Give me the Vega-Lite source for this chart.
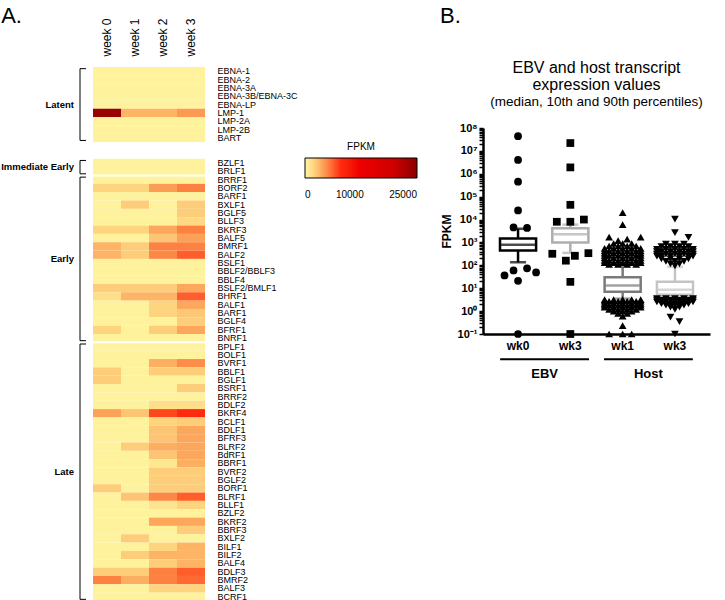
{
"$schema":"https://vega.github.io/schema/vega-lite/v6.json",
"padding":{"left":1,"top":4,"right":5,"bottom":3},
"background":"white",
"config":{"font":"Liberation Sans","view":{"stroke":null},"axis":{"labelColor":"black","titleColor":"black"},"title":{"color":"black","subtitleColor":"black"}},
"datasets":{
"brk":[
{"grp":"Latent","first":"EBNA-1","last":"BART","mid":"EBNA-LP","t":"c"},
{"grp":"Immediate Early","first":"BZLF1","last":"BRLF1","mid":"BRLF1","t":"s"},
{"grp":"Early","first":"BRRF1","last":"BNRF1","mid":"BSLF1","t":"s"},
{"grp":"Late","first":"BPLF1","last":"BCRF1","mid":"BVRF2","t":"c"}],
"seps":[{"sep":"BRRF1"},{"sep":"BPLF1"}],
"groups":[{"src":"EBV"},{"src":"Host"}],
"heat":[
{"g":"EBNA-1","w":"week 0","v":250},{"g":"EBNA-1","w":"week 1","v":250},{"g":"EBNA-1","w":"week 2","v":250},{"g":"EBNA-1","w":"week 3","v":250},
{"g":"EBNA-2","w":"week 0","v":250},{"g":"EBNA-2","w":"week 1","v":250},{"g":"EBNA-2","w":"week 2","v":250},{"g":"EBNA-2","w":"week 3","v":250},
{"g":"EBNA-3A","w":"week 0","v":250},{"g":"EBNA-3A","w":"week 1","v":250},{"g":"EBNA-3A","w":"week 2","v":250},{"g":"EBNA-3A","w":"week 3","v":250},
{"g":"EBNA-3B/EBNA-3C","w":"week 0","v":250},{"g":"EBNA-3B/EBNA-3C","w":"week 1","v":250},{"g":"EBNA-3B/EBNA-3C","w":"week 2","v":250},{"g":"EBNA-3B/EBNA-3C","w":"week 3","v":250},
{"g":"EBNA-LP","w":"week 0","v":250},{"g":"EBNA-LP","w":"week 1","v":250},{"g":"EBNA-LP","w":"week 2","v":250},{"g":"EBNA-LP","w":"week 3","v":250},
{"g":"LMP-1","w":"week 0","v":24000},{"g":"LMP-1","w":"week 1","v":3300},{"g":"LMP-1","w":"week 2","v":3300},{"g":"LMP-1","w":"week 3","v":4300},
{"g":"LMP-2A","w":"week 0","v":250},{"g":"LMP-2A","w":"week 1","v":250},{"g":"LMP-2A","w":"week 2","v":250},{"g":"LMP-2A","w":"week 3","v":250},
{"g":"LMP-2B","w":"week 0","v":250},{"g":"LMP-2B","w":"week 1","v":250},{"g":"LMP-2B","w":"week 2","v":250},{"g":"LMP-2B","w":"week 3","v":250},
{"g":"BART","w":"week 0","v":250},{"g":"BART","w":"week 1","v":250},{"g":"BART","w":"week 2","v":250},{"g":"BART","w":"week 3","v":250},
{"g":"BZLF1","w":"week 0","v":250},{"g":"BZLF1","w":"week 1","v":250},{"g":"BZLF1","w":"week 2","v":250},{"g":"BZLF1","w":"week 3","v":250},
{"g":"BRLF1","w":"week 0","v":250},{"g":"BRLF1","w":"week 1","v":250},{"g":"BRLF1","w":"week 2","v":250},{"g":"BRLF1","w":"week 3","v":250},
{"g":"BRRF1","w":"week 0","v":250},{"g":"BRRF1","w":"week 1","v":250},{"g":"BRRF1","w":"week 2","v":250},{"g":"BRRF1","w":"week 3","v":250},
{"g":"BORF2","w":"week 0","v":2000},{"g":"BORF2","w":"week 1","v":2000},{"g":"BORF2","w":"week 2","v":4200},{"g":"BORF2","w":"week 3","v":5200},
{"g":"BARF1","w":"week 0","v":250},{"g":"BARF1","w":"week 1","v":250},{"g":"BARF1","w":"week 2","v":250},{"g":"BARF1","w":"week 3","v":250},
{"g":"BXLF1","w":"week 0","v":250},{"g":"BXLF1","w":"week 1","v":2300},{"g":"BXLF1","w":"week 2","v":250},{"g":"BXLF1","w":"week 3","v":2300},
{"g":"BGLF5","w":"week 0","v":250},{"g":"BGLF5","w":"week 1","v":250},{"g":"BGLF5","w":"week 2","v":250},{"g":"BGLF5","w":"week 3","v":2300},
{"g":"BLLF3","w":"week 0","v":250},{"g":"BLLF3","w":"week 1","v":250},{"g":"BLLF3","w":"week 2","v":250},{"g":"BLLF3","w":"week 3","v":1800},
{"g":"BKRF3","w":"week 0","v":2000},{"g":"BKRF3","w":"week 1","v":2000},{"g":"BKRF3","w":"week 2","v":3800},{"g":"BKRF3","w":"week 3","v":5200},
{"g":"BALF5","w":"week 0","v":250},{"g":"BALF5","w":"week 1","v":250},{"g":"BALF5","w":"week 2","v":2600},{"g":"BALF5","w":"week 3","v":4000},
{"g":"BMRF1","w":"week 0","v":3300},{"g":"BMRF1","w":"week 1","v":2300},{"g":"BMRF1","w":"week 2","v":5200},{"g":"BMRF1","w":"week 3","v":5200},
{"g":"BALF2","w":"week 0","v":3300},{"g":"BALF2","w":"week 1","v":2300},{"g":"BALF2","w":"week 2","v":5000},{"g":"BALF2","w":"week 3","v":6500},
{"g":"BSLF1","w":"week 0","v":250},{"g":"BSLF1","w":"week 1","v":250},{"g":"BSLF1","w":"week 2","v":250},{"g":"BSLF1","w":"week 3","v":250},
{"g":"BBLF2/BBLF3","w":"week 0","v":250},{"g":"BBLF2/BBLF3","w":"week 1","v":250},{"g":"BBLF2/BBLF3","w":"week 2","v":250},{"g":"BBLF2/BBLF3","w":"week 3","v":250},
{"g":"BBLF4","w":"week 0","v":250},{"g":"BBLF4","w":"week 1","v":250},{"g":"BBLF4","w":"week 2","v":250},{"g":"BBLF4","w":"week 3","v":250},
{"g":"BSLF2/BMLF1","w":"week 0","v":2300},{"g":"BSLF2/BMLF1","w":"week 1","v":2300},{"g":"BSLF2/BMLF1","w":"week 2","v":2300},{"g":"BSLF2/BMLF1","w":"week 3","v":3800},
{"g":"BHRF1","w":"week 0","v":1600},{"g":"BHRF1","w":"week 1","v":3300},{"g":"BHRF1","w":"week 2","v":3300},{"g":"BHRF1","w":"week 3","v":6500},
{"g":"BALF1","w":"week 0","v":250},{"g":"BALF1","w":"week 1","v":250},{"g":"BALF1","w":"week 2","v":2000},{"g":"BALF1","w":"week 3","v":3800},
{"g":"BARF1 ","w":"week 0","v":250},{"g":"BARF1 ","w":"week 1","v":250},{"g":"BARF1 ","w":"week 2","v":2000},{"g":"BARF1 ","w":"week 3","v":2500},
{"g":"BGLF4","w":"week 0","v":250},{"g":"BGLF4","w":"week 1","v":250},{"g":"BGLF4","w":"week 2","v":250},{"g":"BGLF4","w":"week 3","v":2300},
{"g":"BFRF1","w":"week 0","v":2000},{"g":"BFRF1","w":"week 1","v":250},{"g":"BFRF1","w":"week 2","v":2300},{"g":"BFRF1","w":"week 3","v":3800},
{"g":"BNRF1","w":"week 0","v":250},{"g":"BNRF1","w":"week 1","v":250},{"g":"BNRF1","w":"week 2","v":250},{"g":"BNRF1","w":"week 3","v":250},
{"g":"BPLF1","w":"week 0","v":250},{"g":"BPLF1","w":"week 1","v":250},{"g":"BPLF1","w":"week 2","v":250},{"g":"BPLF1","w":"week 3","v":250},
{"g":"BOLF1","w":"week 0","v":250},{"g":"BOLF1","w":"week 1","v":250},{"g":"BOLF1","w":"week 2","v":250},{"g":"BOLF1","w":"week 3","v":250},
{"g":"BVRF1","w":"week 0","v":250},{"g":"BVRF1","w":"week 1","v":250},{"g":"BVRF1","w":"week 2","v":3500},{"g":"BVRF1","w":"week 3","v":4800},
{"g":"BBLF1","w":"week 0","v":2300},{"g":"BBLF1","w":"week 1","v":250},{"g":"BBLF1","w":"week 2","v":2300},{"g":"BBLF1","w":"week 3","v":2300},
{"g":"BGLF1","w":"week 0","v":2300},{"g":"BGLF1","w":"week 1","v":250},{"g":"BGLF1","w":"week 2","v":250},{"g":"BGLF1","w":"week 3","v":250},
{"g":"BSRF1","w":"week 0","v":250},{"g":"BSRF1","w":"week 1","v":250},{"g":"BSRF1","w":"week 2","v":250},{"g":"BSRF1","w":"week 3","v":2300},
{"g":"BRRF2","w":"week 0","v":250},{"g":"BRRF2","w":"week 1","v":250},{"g":"BRRF2","w":"week 2","v":250},{"g":"BRRF2","w":"week 3","v":250},
{"g":"BDLF2","w":"week 0","v":250},{"g":"BDLF2","w":"week 1","v":250},{"g":"BDLF2","w":"week 2","v":1600},{"g":"BDLF2","w":"week 3","v":1600},
{"g":"BKRF4","w":"week 0","v":4000},{"g":"BKRF4","w":"week 1","v":2600},{"g":"BKRF4","w":"week 2","v":7300},{"g":"BKRF4","w":"week 3","v":8200},
{"g":"BCLF1","w":"week 0","v":250},{"g":"BCLF1","w":"week 1","v":250},{"g":"BCLF1","w":"week 2","v":2000},{"g":"BCLF1","w":"week 3","v":2300},
{"g":"BDLF1","w":"week 0","v":250},{"g":"BDLF1","w":"week 1","v":250},{"g":"BDLF1","w":"week 2","v":2600},{"g":"BDLF1","w":"week 3","v":3800},
{"g":"BFRF3","w":"week 0","v":250},{"g":"BFRF3","w":"week 1","v":250},{"g":"BFRF3","w":"week 2","v":2600},{"g":"BFRF3","w":"week 3","v":3800},
{"g":"BLRF2","w":"week 0","v":250},{"g":"BLRF2","w":"week 1","v":2300},{"g":"BLRF2","w":"week 2","v":3500},{"g":"BLRF2","w":"week 3","v":3800},
{"g":"BdRF1","w":"week 0","v":250},{"g":"BdRF1","w":"week 1","v":250},{"g":"BdRF1","w":"week 2","v":2600},{"g":"BdRF1","w":"week 3","v":3800},
{"g":"BBRF1","w":"week 0","v":250},{"g":"BBRF1","w":"week 1","v":250},{"g":"BBRF1","w":"week 2","v":1000},{"g":"BBRF1","w":"week 3","v":3500},
{"g":"BVRF2","w":"week 0","v":250},{"g":"BVRF2","w":"week 1","v":250},{"g":"BVRF2","w":"week 2","v":2300},{"g":"BVRF2","w":"week 3","v":2300},
{"g":"BGLF2","w":"week 0","v":250},{"g":"BGLF2","w":"week 1","v":250},{"g":"BGLF2","w":"week 2","v":2300},{"g":"BGLF2","w":"week 3","v":2300},
{"g":"BORF1","w":"week 0","v":2300},{"g":"BORF1","w":"week 1","v":250},{"g":"BORF1","w":"week 2","v":2300},{"g":"BORF1","w":"week 3","v":2300},
{"g":"BLRF1","w":"week 0","v":250},{"g":"BLRF1","w":"week 1","v":2600},{"g":"BLRF1","w":"week 2","v":5000},{"g":"BLRF1","w":"week 3","v":6500},
{"g":"BLLF1","w":"week 0","v":250},{"g":"BLLF1","w":"week 1","v":250},{"g":"BLLF1","w":"week 2","v":1200},{"g":"BLLF1","w":"week 3","v":2000},
{"g":"BZLF2","w":"week 0","v":250},{"g":"BZLF2","w":"week 1","v":250},{"g":"BZLF2","w":"week 2","v":250},{"g":"BZLF2","w":"week 3","v":250},
{"g":"BKRF2","w":"week 0","v":250},{"g":"BKRF2","w":"week 1","v":250},{"g":"BKRF2","w":"week 2","v":3800},{"g":"BKRF2","w":"week 3","v":3800},
{"g":"BBRF3","w":"week 0","v":250},{"g":"BBRF3","w":"week 1","v":250},{"g":"BBRF3","w":"week 2","v":250},{"g":"BBRF3","w":"week 3","v":2300},
{"g":"BXLF2","w":"week 0","v":250},{"g":"BXLF2","w":"week 1","v":2300},{"g":"BXLF2","w":"week 2","v":250},{"g":"BXLF2","w":"week 3","v":250},
{"g":"BILF1","w":"week 0","v":250},{"g":"BILF1","w":"week 1","v":250},{"g":"BILF1","w":"week 2","v":2000},{"g":"BILF1","w":"week 3","v":3300},
{"g":"BILF2","w":"week 0","v":250},{"g":"BILF2","w":"week 1","v":2300},{"g":"BILF2","w":"week 2","v":3300},{"g":"BILF2","w":"week 3","v":3300},
{"g":"BALF4","w":"week 0","v":250},{"g":"BALF4","w":"week 1","v":250},{"g":"BALF4","w":"week 2","v":2300},{"g":"BALF4","w":"week 3","v":3300},
{"g":"BDLF3","w":"week 0","v":2300},{"g":"BDLF3","w":"week 1","v":2300},{"g":"BDLF3","w":"week 2","v":5200},{"g":"BDLF3","w":"week 3","v":6500},
{"g":"BMRF2","w":"week 0","v":5200},{"g":"BMRF2","w":"week 1","v":3500},{"g":"BMRF2","w":"week 2","v":5200},{"g":"BMRF2","w":"week 3","v":6000},
{"g":"BALF3","w":"week 0","v":250},{"g":"BALF3","w":"week 1","v":250},{"g":"BALF3","w":"week 2","v":2000},{"g":"BALF3","w":"week 3","v":2000},
{"g":"BCRF1","w":"week 0","v":250},{"g":"BCRF1","w":"week 1","v":250},{"g":"BCRF1","w":"week 2","v":250},{"g":"BCRF1","w":"week 3","v":250}],
"bdata":[
{"kind":"box","src":"EBV","grp":"EBV wk0","q10":135,"q25":440,"med":800,"q75":1500,"q90":4000},
{"kind":"box","src":"EBV","grp":"EBV wk3","q10":350,"q25":1000,"med":2300,"q75":4200,"q90":6000},
{"kind":"box","src":"Host","grp":"Host wk1","q10":3.5,"q25":7,"med":13,"q75":30,"q90":110},
{"kind":"box","src":"Host","grp":"Host wk3","q10":3.6,"q25":5.2,"med":8.5,"q75":19,"q90":85},
{"kind":"pt","src":"EBV","grp":"EBV wk0","v":44000000,"lane":0},
{"kind":"pt","src":"EBV","grp":"EBV wk0","v":4000000,"lane":0},
{"kind":"pt","src":"EBV","grp":"EBV wk0","v":450000,"lane":0},
{"kind":"pt","src":"EBV","grp":"EBV wk0","v":25000,"lane":0},
{"kind":"pt","src":"EBV","grp":"EBV wk0","v":4500,"lane":-1},
{"kind":"pt","src":"EBV","grp":"EBV wk0","v":4300,"lane":2},
{"kind":"pt","src":"EBV","grp":"EBV wk0","v":74,"lane":2},
{"kind":"pt","src":"EBV","grp":"EBV wk0","v":49,"lane":4},
{"kind":"pt","src":"EBV","grp":"EBV wk0","v":60,"lane":-1},
{"kind":"pt","src":"EBV","grp":"EBV wk0","v":36,"lane":-3},
{"kind":"pt","src":"EBV","grp":"EBV wk0","v":21,"lane":0},
{"kind":"pt","src":"EBV","grp":"EBV wk0","v":0.1,"lane":0},
{"kind":"pt","src":"EBV","grp":"EBV wk3","v":22000000,"lane":0},
{"kind":"pt","src":"EBV","grp":"EBV wk3","v":1900000,"lane":0},
{"kind":"pt","src":"EBV","grp":"EBV wk3","v":44000,"lane":0},
{"kind":"pt","src":"EBV","grp":"EBV wk3","v":8000,"lane":-3},
{"kind":"pt","src":"EBV","grp":"EBV wk3","v":8000,"lane":0},
{"kind":"pt","src":"EBV","grp":"EBV wk3","v":10000,"lane":3},
{"kind":"pt","src":"EBV","grp":"EBV wk3","v":320,"lane":-4},
{"kind":"pt","src":"EBV","grp":"EBV wk3","v":160,"lane":-1},
{"kind":"pt","src":"EBV","grp":"EBV wk3","v":260,"lane":1},
{"kind":"pt","src":"EBV","grp":"EBV wk3","v":340,"lane":4},
{"kind":"pt","src":"EBV","grp":"EBV wk3","v":19,"lane":0},
{"kind":"pt","src":"EBV","grp":"EBV wk3","v":0.1,"lane":0},
{"kind":"pt","src":"Host","grp":"Host wk1","v":20000,"lane":0},
{"kind":"pt","src":"Host","grp":"Host wk1","v":6000,"lane":0},
{"kind":"pt","src":"Host","grp":"Host wk1","v":1700,"lane":-3},
{"kind":"pt","src":"Host","grp":"Host wk1","v":1700,"lane":4},
{"kind":"pt","src":"Host","grp":"Host wk1","v":1400,"lane":1},
{"kind":"pt","src":"Host","grp":"Host wk1","v":1200,"lane":-1},
{"kind":"pt","src":"Host","grp":"Host wk1","v":900,"lane":-2},{"kind":"pt","src":"Host","grp":"Host wk1","v":900,"lane":0},{"kind":"pt","src":"Host","grp":"Host wk1","v":900,"lane":2},
{"kind":"pt","src":"Host","grp":"Host wk1","v":700,"lane":-3},{"kind":"pt","src":"Host","grp":"Host wk1","v":700,"lane":-1},{"kind":"pt","src":"Host","grp":"Host wk1","v":700,"lane":1},{"kind":"pt","src":"Host","grp":"Host wk1","v":700,"lane":3},
{"kind":"pt","src":"Host","grp":"Host wk1","v":550,"lane":-4},{"kind":"pt","src":"Host","grp":"Host wk1","v":550,"lane":-2},{"kind":"pt","src":"Host","grp":"Host wk1","v":550,"lane":0},{"kind":"pt","src":"Host","grp":"Host wk1","v":550,"lane":2},{"kind":"pt","src":"Host","grp":"Host wk1","v":550,"lane":4},
{"kind":"pt","src":"Host","grp":"Host wk1","v":430,"lane":-4},{"kind":"pt","src":"Host","grp":"Host wk1","v":430,"lane":-3},{"kind":"pt","src":"Host","grp":"Host wk1","v":430,"lane":-1},{"kind":"pt","src":"Host","grp":"Host wk1","v":430,"lane":1},{"kind":"pt","src":"Host","grp":"Host wk1","v":430,"lane":3},{"kind":"pt","src":"Host","grp":"Host wk1","v":430,"lane":4},
{"kind":"pt","src":"Host","grp":"Host wk1","v":340,"lane":-4},{"kind":"pt","src":"Host","grp":"Host wk1","v":340,"lane":-2},{"kind":"pt","src":"Host","grp":"Host wk1","v":340,"lane":0},{"kind":"pt","src":"Host","grp":"Host wk1","v":340,"lane":2},{"kind":"pt","src":"Host","grp":"Host wk1","v":340,"lane":4},
{"kind":"pt","src":"Host","grp":"Host wk1","v":270,"lane":-4},{"kind":"pt","src":"Host","grp":"Host wk1","v":270,"lane":-3},{"kind":"pt","src":"Host","grp":"Host wk1","v":270,"lane":-1},{"kind":"pt","src":"Host","grp":"Host wk1","v":270,"lane":1},{"kind":"pt","src":"Host","grp":"Host wk1","v":270,"lane":3},{"kind":"pt","src":"Host","grp":"Host wk1","v":270,"lane":4},
{"kind":"pt","src":"Host","grp":"Host wk1","v":210,"lane":-4},{"kind":"pt","src":"Host","grp":"Host wk1","v":210,"lane":-2},{"kind":"pt","src":"Host","grp":"Host wk1","v":210,"lane":0},{"kind":"pt","src":"Host","grp":"Host wk1","v":210,"lane":2},{"kind":"pt","src":"Host","grp":"Host wk1","v":210,"lane":4},
{"kind":"pt","src":"Host","grp":"Host wk1","v":165,"lane":-4},{"kind":"pt","src":"Host","grp":"Host wk1","v":165,"lane":-3},{"kind":"pt","src":"Host","grp":"Host wk1","v":165,"lane":-1},{"kind":"pt","src":"Host","grp":"Host wk1","v":165,"lane":1},{"kind":"pt","src":"Host","grp":"Host wk1","v":165,"lane":3},{"kind":"pt","src":"Host","grp":"Host wk1","v":165,"lane":4},
{"kind":"pt","src":"Host","grp":"Host wk1","v":130,"lane":-4},{"kind":"pt","src":"Host","grp":"Host wk1","v":130,"lane":-2},{"kind":"pt","src":"Host","grp":"Host wk1","v":130,"lane":0},{"kind":"pt","src":"Host","grp":"Host wk1","v":130,"lane":2},{"kind":"pt","src":"Host","grp":"Host wk1","v":130,"lane":4},
{"kind":"pt","src":"Host","grp":"Host wk1","v":110,"lane":-3},{"kind":"pt","src":"Host","grp":"Host wk1","v":110,"lane":-1},{"kind":"pt","src":"Host","grp":"Host wk1","v":110,"lane":1},{"kind":"pt","src":"Host","grp":"Host wk1","v":110,"lane":3},
{"kind":"pt","src":"Host","grp":"Host wk1","v":3.2,"lane":-4},{"kind":"pt","src":"Host","grp":"Host wk1","v":3.2,"lane":-2},{"kind":"pt","src":"Host","grp":"Host wk1","v":3.2,"lane":0},{"kind":"pt","src":"Host","grp":"Host wk1","v":3.2,"lane":2},{"kind":"pt","src":"Host","grp":"Host wk1","v":3.2,"lane":4},
{"kind":"pt","src":"Host","grp":"Host wk1","v":2.7,"lane":-4},{"kind":"pt","src":"Host","grp":"Host wk1","v":2.7,"lane":-3},{"kind":"pt","src":"Host","grp":"Host wk1","v":2.7,"lane":-1},{"kind":"pt","src":"Host","grp":"Host wk1","v":2.7,"lane":1},{"kind":"pt","src":"Host","grp":"Host wk1","v":2.7,"lane":3},{"kind":"pt","src":"Host","grp":"Host wk1","v":2.7,"lane":4},
{"kind":"pt","src":"Host","grp":"Host wk1","v":2.2,"lane":-4},{"kind":"pt","src":"Host","grp":"Host wk1","v":2.2,"lane":-2},{"kind":"pt","src":"Host","grp":"Host wk1","v":2.2,"lane":0},{"kind":"pt","src":"Host","grp":"Host wk1","v":2.2,"lane":2},{"kind":"pt","src":"Host","grp":"Host wk1","v":2.2,"lane":4},
{"kind":"pt","src":"Host","grp":"Host wk1","v":1.8,"lane":-4},{"kind":"pt","src":"Host","grp":"Host wk1","v":1.8,"lane":-3},{"kind":"pt","src":"Host","grp":"Host wk1","v":1.8,"lane":-1},{"kind":"pt","src":"Host","grp":"Host wk1","v":1.8,"lane":1},{"kind":"pt","src":"Host","grp":"Host wk1","v":1.8,"lane":3},{"kind":"pt","src":"Host","grp":"Host wk1","v":1.8,"lane":4},
{"kind":"pt","src":"Host","grp":"Host wk1","v":1.5,"lane":-4},{"kind":"pt","src":"Host","grp":"Host wk1","v":1.5,"lane":-2},{"kind":"pt","src":"Host","grp":"Host wk1","v":1.5,"lane":0},{"kind":"pt","src":"Host","grp":"Host wk1","v":1.5,"lane":2},{"kind":"pt","src":"Host","grp":"Host wk1","v":1.5,"lane":4},
{"kind":"pt","src":"Host","grp":"Host wk1","v":1.2,"lane":-3},{"kind":"pt","src":"Host","grp":"Host wk1","v":1.2,"lane":-1},{"kind":"pt","src":"Host","grp":"Host wk1","v":1.2,"lane":1},{"kind":"pt","src":"Host","grp":"Host wk1","v":1.2,"lane":3},
{"kind":"pt","src":"Host","grp":"Host wk1","v":1.0,"lane":-2},{"kind":"pt","src":"Host","grp":"Host wk1","v":1.0,"lane":0},{"kind":"pt","src":"Host","grp":"Host wk1","v":1.0,"lane":2},
{"kind":"pt","src":"Host","grp":"Host wk1","v":0.8,"lane":-1},{"kind":"pt","src":"Host","grp":"Host wk1","v":0.8,"lane":1},
{"kind":"pt","src":"Host","grp":"Host wk1","v":0.6,"lane":0},
{"kind":"pt","src":"Host","grp":"Host wk1","v":0.23,"lane":0},
{"kind":"pt","src":"Host","grp":"Host wk1","v":0.1,"lane":-3},{"kind":"pt","src":"Host","grp":"Host wk1","v":0.1,"lane":0},{"kind":"pt","src":"Host","grp":"Host wk1","v":0.1,"lane":2},
{"kind":"pt","src":"Host","grp":"Host wk3","v":10500,"lane":0},
{"kind":"pt","src":"Host","grp":"Host wk3","v":2700,"lane":0},
{"kind":"pt","src":"Host","grp":"Host wk3","v":1650,"lane":3},
{"kind":"pt","src":"Host","grp":"Host wk3","v":850,"lane":-2},{"kind":"pt","src":"Host","grp":"Host wk3","v":850,"lane":0},{"kind":"pt","src":"Host","grp":"Host wk3","v":850,"lane":2},
{"kind":"pt","src":"Host","grp":"Host wk3","v":650,"lane":-3},{"kind":"pt","src":"Host","grp":"Host wk3","v":650,"lane":-1},{"kind":"pt","src":"Host","grp":"Host wk3","v":650,"lane":1},{"kind":"pt","src":"Host","grp":"Host wk3","v":650,"lane":3},
{"kind":"pt","src":"Host","grp":"Host wk3","v":500,"lane":-4},{"kind":"pt","src":"Host","grp":"Host wk3","v":500,"lane":-2},{"kind":"pt","src":"Host","grp":"Host wk3","v":500,"lane":0},{"kind":"pt","src":"Host","grp":"Host wk3","v":500,"lane":2},{"kind":"pt","src":"Host","grp":"Host wk3","v":500,"lane":4},
{"kind":"pt","src":"Host","grp":"Host wk3","v":400,"lane":-4},{"kind":"pt","src":"Host","grp":"Host wk3","v":400,"lane":-3},{"kind":"pt","src":"Host","grp":"Host wk3","v":400,"lane":-1},{"kind":"pt","src":"Host","grp":"Host wk3","v":400,"lane":1},{"kind":"pt","src":"Host","grp":"Host wk3","v":400,"lane":3},{"kind":"pt","src":"Host","grp":"Host wk3","v":400,"lane":4},
{"kind":"pt","src":"Host","grp":"Host wk3","v":310,"lane":-4},{"kind":"pt","src":"Host","grp":"Host wk3","v":310,"lane":-2},{"kind":"pt","src":"Host","grp":"Host wk3","v":310,"lane":0},{"kind":"pt","src":"Host","grp":"Host wk3","v":310,"lane":2},{"kind":"pt","src":"Host","grp":"Host wk3","v":310,"lane":4},
{"kind":"pt","src":"Host","grp":"Host wk3","v":250,"lane":-4},{"kind":"pt","src":"Host","grp":"Host wk3","v":250,"lane":-3},{"kind":"pt","src":"Host","grp":"Host wk3","v":250,"lane":-1},{"kind":"pt","src":"Host","grp":"Host wk3","v":250,"lane":1},{"kind":"pt","src":"Host","grp":"Host wk3","v":250,"lane":3},{"kind":"pt","src":"Host","grp":"Host wk3","v":250,"lane":4},
{"kind":"pt","src":"Host","grp":"Host wk3","v":190,"lane":-3},{"kind":"pt","src":"Host","grp":"Host wk3","v":190,"lane":-1},{"kind":"pt","src":"Host","grp":"Host wk3","v":190,"lane":1},{"kind":"pt","src":"Host","grp":"Host wk3","v":190,"lane":3},
{"kind":"pt","src":"Host","grp":"Host wk3","v":150,"lane":-2},{"kind":"pt","src":"Host","grp":"Host wk3","v":150,"lane":0},{"kind":"pt","src":"Host","grp":"Host wk3","v":150,"lane":2},
{"kind":"pt","src":"Host","grp":"Host wk3","v":115,"lane":-1},{"kind":"pt","src":"Host","grp":"Host wk3","v":115,"lane":1},
{"kind":"pt","src":"Host","grp":"Host wk3","v":95,"lane":0},
{"kind":"pt","src":"Host","grp":"Host wk3","v":3.5,"lane":-4},{"kind":"pt","src":"Host","grp":"Host wk3","v":3.5,"lane":-2},{"kind":"pt","src":"Host","grp":"Host wk3","v":3.5,"lane":0},{"kind":"pt","src":"Host","grp":"Host wk3","v":3.5,"lane":2},{"kind":"pt","src":"Host","grp":"Host wk3","v":3.5,"lane":4},
{"kind":"pt","src":"Host","grp":"Host wk3","v":3.0,"lane":-4},{"kind":"pt","src":"Host","grp":"Host wk3","v":3.0,"lane":-3},{"kind":"pt","src":"Host","grp":"Host wk3","v":3.0,"lane":-1},{"kind":"pt","src":"Host","grp":"Host wk3","v":3.0,"lane":1},{"kind":"pt","src":"Host","grp":"Host wk3","v":3.0,"lane":3},{"kind":"pt","src":"Host","grp":"Host wk3","v":3.0,"lane":4},
{"kind":"pt","src":"Host","grp":"Host wk3","v":2.5,"lane":-4},{"kind":"pt","src":"Host","grp":"Host wk3","v":2.5,"lane":-2},{"kind":"pt","src":"Host","grp":"Host wk3","v":2.5,"lane":0},{"kind":"pt","src":"Host","grp":"Host wk3","v":2.5,"lane":2},{"kind":"pt","src":"Host","grp":"Host wk3","v":2.5,"lane":4},
{"kind":"pt","src":"Host","grp":"Host wk3","v":2.1,"lane":-3},{"kind":"pt","src":"Host","grp":"Host wk3","v":2.1,"lane":-1},{"kind":"pt","src":"Host","grp":"Host wk3","v":2.1,"lane":1},{"kind":"pt","src":"Host","grp":"Host wk3","v":2.1,"lane":3},
{"kind":"pt","src":"Host","grp":"Host wk3","v":1.8,"lane":-2},{"kind":"pt","src":"Host","grp":"Host wk3","v":1.8,"lane":0},{"kind":"pt","src":"Host","grp":"Host wk3","v":1.8,"lane":2},
{"kind":"pt","src":"Host","grp":"Host wk3","v":1.5,"lane":-1},{"kind":"pt","src":"Host","grp":"Host wk3","v":1.5,"lane":1},
{"kind":"pt","src":"Host","grp":"Host wk3","v":1.2,"lane":0},
{"kind":"pt","src":"Host","grp":"Host wk3","v":0.55,"lane":-1},
{"kind":"pt","src":"Host","grp":"Host wk3","v":0.35,"lane":1},
{"kind":"pt","src":"Host","grp":"Host wk3","v":0.1,"lane":0}]
},
"resolve":{"scale":{"color":"independent","stroke":"independent","shape":"independent","xOffset":"independent","y":"independent","x":"independent"}},
"spacing":22,
"hconcat":[
{
"title":{"text":"A.","anchor":"start","fontSize":22,"fontWeight":"normal","offset":-10},
"bounds":"flush",
"spacing":7,
"resolve":{"scale":{"y":"shared"}},
"hconcat":[
{
"width":6,"height":534,
"data":{"name":"brk"},
"layer":[
{"mark":{"type":"rule","color":"black","strokeWidth":1},
"encoding":{
"x":{"datum":0,"type":"quantitative","scale":{"domain":[0,1]},"axis":null},
"y":{"field":"first","type":"ordinal","bandPosition":0.2,"axis":null,"scale":{"type":"band","paddingInner":0,"paddingOuter":0,"domain":["EBNA-1","EBNA-2","EBNA-3A","EBNA-3B/EBNA-3C","EBNA-LP","LMP-1","LMP-2A","LMP-2B","BART","_s1","_s2","BZLF1","BRLF1","BRRF1","BORF2","BARF1","BXLF1","BGLF5","BLLF3","BKRF3","BALF5","BMRF1","BALF2","BSLF1","BBLF2/BBLF3","BBLF4","BSLF2/BMLF1","BHRF1","BALF1","BARF1 ","BGLF4","BFRF1","BNRF1","BPLF1","BOLF1","BVRF1","BBLF1","BGLF1","BSRF1","BRRF2","BDLF2","BKRF4","BCLF1","BDLF1","BFRF3","BLRF2","BdRF1","BBRF1","BVRF2","BGLF2","BORF1","BLRF1","BLLF1","BZLF2","BKRF2","BBRF3","BXLF2","BILF1","BILF2","BALF4","BDLF3","BMRF2","BALF3","BCRF1"]}},
"y2":{"field":"last","bandPosition":0.8}}},
{"mark":{"type":"rule","color":"black","strokeWidth":1},
"encoding":{
"x":{"datum":0,"type":"quantitative","scale":{"domain":[0,1]},"axis":null},
"x2":{"datum":1},
"y":{"field":"first","type":"ordinal","bandPosition":0.2,"axis":null,"scale":{"type":"band","paddingInner":0,"paddingOuter":0,"domain":["EBNA-1","EBNA-2","EBNA-3A","EBNA-3B/EBNA-3C","EBNA-LP","LMP-1","LMP-2A","LMP-2B","BART","_s1","_s2","BZLF1","BRLF1","BRRF1","BORF2","BARF1","BXLF1","BGLF5","BLLF3","BKRF3","BALF5","BMRF1","BALF2","BSLF1","BBLF2/BBLF3","BBLF4","BSLF2/BMLF1","BHRF1","BALF1","BARF1 ","BGLF4","BFRF1","BNRF1","BPLF1","BOLF1","BVRF1","BBLF1","BGLF1","BSRF1","BRRF2","BDLF2","BKRF4","BCLF1","BDLF1","BFRF3","BLRF2","BdRF1","BBRF1","BVRF2","BGLF2","BORF1","BLRF1","BLLF1","BZLF2","BKRF2","BBRF3","BXLF2","BILF1","BILF2","BALF4","BDLF3","BMRF2","BALF3","BCRF1"]}}}},
{"mark":{"type":"rule","color":"black","strokeWidth":1},
"encoding":{
"x":{"datum":0,"type":"quantitative","scale":{"domain":[0,1]},"axis":null},
"x2":{"datum":1},
"y":{"field":"last","type":"ordinal","bandPosition":0.8,"axis":null,"scale":{"type":"band","paddingInner":0,"paddingOuter":0,"domain":["EBNA-1","EBNA-2","EBNA-3A","EBNA-3B/EBNA-3C","EBNA-LP","LMP-1","LMP-2A","LMP-2B","BART","_s1","_s2","BZLF1","BRLF1","BRRF1","BORF2","BARF1","BXLF1","BGLF5","BLLF3","BKRF3","BALF5","BMRF1","BALF2","BSLF1","BBLF2/BBLF3","BBLF4","BSLF2/BMLF1","BHRF1","BALF1","BARF1 ","BGLF4","BFRF1","BNRF1","BPLF1","BOLF1","BVRF1","BBLF1","BGLF1","BSRF1","BRRF2","BDLF2","BKRF4","BCLF1","BDLF1","BFRF3","BLRF2","BdRF1","BBRF1","BVRF2","BGLF2","BORF1","BLRF1","BLLF1","BZLF2","BKRF2","BBRF3","BXLF2","BILF1","BILF2","BALF4","BDLF3","BMRF2","BALF3","BCRF1"]}}}},
{"transform":[{"filter":"datum.t=='c'"}],
"mark":{"type":"text","align":"right","baseline":"middle","dx":-6,"fontWeight":"bold","fontSize":9.5,"color":"black"},
"encoding":{
"x":{"datum":0,"type":"quantitative","scale":{"domain":[0,1]},"axis":null},
"y":{"field":"mid","type":"ordinal","bandPosition":0.5,"axis":null,"scale":{"type":"band","paddingInner":0,"paddingOuter":0,"domain":["EBNA-1","EBNA-2","EBNA-3A","EBNA-3B/EBNA-3C","EBNA-LP","LMP-1","LMP-2A","LMP-2B","BART","_s1","_s2","BZLF1","BRLF1","BRRF1","BORF2","BARF1","BXLF1","BGLF5","BLLF3","BKRF3","BALF5","BMRF1","BALF2","BSLF1","BBLF2/BBLF3","BBLF4","BSLF2/BMLF1","BHRF1","BALF1","BARF1 ","BGLF4","BFRF1","BNRF1","BPLF1","BOLF1","BVRF1","BBLF1","BGLF1","BSRF1","BRRF2","BDLF2","BKRF4","BCLF1","BDLF1","BFRF3","BLRF2","BdRF1","BBRF1","BVRF2","BGLF2","BORF1","BLRF1","BLLF1","BZLF2","BKRF2","BBRF3","BXLF2","BILF1","BILF2","BALF4","BDLF3","BMRF2","BALF3","BCRF1"]}},
"text":{"field":"grp"}}},
{"transform":[{"filter":"datum.t=='s'"}],
"mark":{"type":"text","align":"right","baseline":"middle","dx":-6,"fontWeight":"bold","fontSize":9.5,"color":"black"},
"encoding":{
"x":{"datum":0,"type":"quantitative","scale":{"domain":[0,1]},"axis":null},
"y":{"field":"mid","type":"ordinal","bandPosition":0,"axis":null,"scale":{"type":"band","paddingInner":0,"paddingOuter":0,"domain":["EBNA-1","EBNA-2","EBNA-3A","EBNA-3B/EBNA-3C","EBNA-LP","LMP-1","LMP-2A","LMP-2B","BART","_s1","_s2","BZLF1","BRLF1","BRRF1","BORF2","BARF1","BXLF1","BGLF5","BLLF3","BKRF3","BALF5","BMRF1","BALF2","BSLF1","BBLF2/BBLF3","BBLF4","BSLF2/BMLF1","BHRF1","BALF1","BARF1 ","BGLF4","BFRF1","BNRF1","BPLF1","BOLF1","BVRF1","BBLF1","BGLF1","BSRF1","BRRF2","BDLF2","BKRF4","BCLF1","BDLF1","BFRF3","BLRF2","BdRF1","BBRF1","BVRF2","BGLF2","BORF1","BLRF1","BLLF1","BZLF2","BKRF2","BBRF3","BXLF2","BILF1","BILF2","BALF4","BDLF3","BMRF2","BALF3","BCRF1"]}},
"text":{"field":"grp"}}}
]
},
{
"width":112,"height":534,
"layer":[
{"data":{"name":"heat"},
"mark":{"type":"rect"},
"encoding":{
"x":{"field":"w","type":"ordinal","scale":{"type":"band","paddingInner":0,"paddingOuter":0},"axis":{"orient":"top","labelAngle":-90,"ticks":false,"domain":false,"title":null,"labelFontSize":12,"labelPadding":11}},
"y":{"field":"g","type":"ordinal","scale":{"type":"band","paddingInner":0,"paddingOuter":0,"domain":["EBNA-1","EBNA-2","EBNA-3A","EBNA-3B/EBNA-3C","EBNA-LP","LMP-1","LMP-2A","LMP-2B","BART","_s1","_s2","BZLF1","BRLF1","BRRF1","BORF2","BARF1","BXLF1","BGLF5","BLLF3","BKRF3","BALF5","BMRF1","BALF2","BSLF1","BBLF2/BBLF3","BBLF4","BSLF2/BMLF1","BHRF1","BALF1","BARF1 ","BGLF4","BFRF1","BNRF1","BPLF1","BOLF1","BVRF1","BBLF1","BGLF1","BSRF1","BRRF2","BDLF2","BKRF4","BCLF1","BDLF1","BFRF3","BLRF2","BdRF1","BBRF1","BVRF2","BGLF2","BORF1","BLRF1","BLLF1","BZLF2","BKRF2","BBRF3","BXLF2","BILF1","BILF2","BALF4","BDLF3","BMRF2","BALF3","BCRF1"]},
"axis":{"orient":"right","ticks":false,"domain":false,"title":null,"labelFontSize":9,"labelPadding":12,"labelOverlap":false,"labelExpr":"indexof(datum.value,'_') == 0 ? '' : datum.value"}},
"color":{"field":"v","type":"quantitative","scale":{"domain":[0,1500,3000,4500,6000,8000,12000,20000,25000],"range":["#FFF6A0","#FEE08A","#FDBB6C","#FC9550","#FF6A33","#FF2A10","#F00000","#CC0000","#8B0000"]},
"legend":{"title":"FPKM","orient":"none","legendX":225,"legendY":75,"direction":"horizontal","gradientLength":112,"gradientThickness":20,"values":[0,10000,25000],"format":"d","titleAnchor":"middle","titleFontWeight":"normal","titleFontSize":10,"titlePadding":6,"labelFontSize":10,"labelAlign":"center","labelOffset":12,"gradientStrokeColor":"black","gradientStrokeWidth":1}}}},
{"data":{"name":"seps"},
"mark":{"type":"rule","color":"white","strokeWidth":2},
"encoding":{
"y":{"field":"sep","type":"ordinal","bandPosition":0,"scale":{"type":"band","paddingInner":0,"paddingOuter":0,"domain":["EBNA-1","EBNA-2","EBNA-3A","EBNA-3B/EBNA-3C","EBNA-LP","LMP-1","LMP-2A","LMP-2B","BART","_s1","_s2","BZLF1","BRLF1","BRRF1","BORF2","BARF1","BXLF1","BGLF5","BLLF3","BKRF3","BALF5","BMRF1","BALF2","BSLF1","BBLF2/BBLF3","BBLF4","BSLF2/BMLF1","BHRF1","BALF1","BARF1 ","BGLF4","BFRF1","BNRF1","BPLF1","BOLF1","BVRF1","BBLF1","BGLF1","BSRF1","BRRF2","BDLF2","BKRF4","BCLF1","BDLF1","BFRF3","BLRF2","BdRF1","BBRF1","BVRF2","BGLF2","BORF1","BLRF1","BLLF1","BZLF2","BKRF2","BBRF3","BXLF2","BILF1","BILF2","BALF4","BDLF3","BMRF2","BALF3","BCRF1"]}}}}
]
}
]
},
{
"title":{"text":"B.","anchor":"start","fontSize":22,"fontWeight":"normal","offset":32},
"spacing":-12,
"resolve":{"scale":{"xOffset":"independent"}},
"vconcat":[
{"width":227,"height":1,"data":{"values":[{"a":0}]},"mark":{"type":"point","opacity":0},
"encoding":{"x":{"datum":0,"type":"quantitative","scale":{"domain":[0,1]},"axis":null},"y":{"datum":0,"type":"quantitative","scale":{"domain":[0,1]},"axis":null}}},
{
"width":227,"height":206,
"title":{"text":["EBV and host transcript","expression values"],"subtitle":"(median, 10th and 90th percentiles)","anchor":"middle","fontSize":16,"fontWeight":"normal","lineHeight":17,"subtitleFontSize":13.5,"subtitlePadding":2,"offset":14},
"data":{"name":"bdata"},
"resolve":{"scale":{"xOffset":"independent"}},
"layer":[
{"transform":[{"filter":"datum.kind=='box'"}],
"mark":{"type":"rule","strokeWidth":2.5},
"encoding":{
"x":{"field":"grp","type":"nominal","scale":{"type":"band","paddingInner":0.31,"paddingOuter":0.325},"axis":{"title":null,"ticks":false,"domainWidth":2.5,"domainColor":"black","labelFontSize":12,"labelFontWeight":"bold","labelAngle":0,"labelPadding":6,"labelExpr":"split(datum.label,' ')[1]"}},
"y":{"field":"q10","type":"quantitative","scale":{"type":"log","domain":[0.1,100000000]},
"axis":{"title":"FPKM","titleFontSize":12,"titleFontWeight":"bold","titlePadding":4,"grid":false,"values":[0.1,0.2,0.3,0.4,0.5,0.6,0.7,0.8,0.9,1,2,3,4,5,6,7,8,9,10,20,30,40,50,60,70,80,90,100,200,300,400,500,600,700,800,900,1000,2000,3000,4000,5000,6000,7000,8000,9000,10000,20000,30000,40000,50000,60000,70000,80000,90000,100000,200000,300000,400000,500000,600000,700000,800000,900000,1000000,2000000,3000000,4000000,5000000,6000000,7000000,8000000,9000000,10000000,20000000,30000000,40000000,50000000,60000000,70000000,80000000,90000000,100000000],
"labelExpr":"abs(log(datum.value)/LN10 - round(log(datum.value)/LN10)) < 0.01 ? '10' + ['⁻¹','⁰','¹','²','³','⁴','⁵','⁶','⁷','⁸'][round(log(datum.value)/LN10) + 1] : ''",
"labelFontSize":11,"labelFontWeight":"bold","labelOverlap":false,"labelPadding":2,"tickColor":"black","tickWidth":1.5,"tickSize":4,"domainColor":"black","domainWidth":2.5}},
"y2":{"field":"q90"},
"color":{"field":"grp","type":"nominal","scale":{"domain":["EBV wk0","EBV wk3","Host wk1","Host wk3"],"range":["#000000","#AEAEAE","#7A7A7A","#C4C4C4"]},"legend":null}}},
{"transform":[{"filter":"datum.kind=='box'"}],
"mark":{"type":"bar","fill":"white","strokeWidth":2.5},
"encoding":{
"x":{"field":"grp","type":"nominal"},
"y":{"field":"q25","type":"quantitative","scale":{"type":"log","domain":[0.1,100000000]}},
"y2":{"field":"q75"},
"stroke":{"field":"grp","type":"nominal","scale":{"domain":["EBV wk0","EBV wk3","Host wk1","Host wk3"],"range":["#000000","#AEAEAE","#7A7A7A","#C4C4C4"]},"legend":null}}},
{"transform":[{"filter":"datum.kind=='box'"}],
"mark":{"type":"tick","thickness":2.5,"size":34},
"encoding":{
"x":{"field":"grp","type":"nominal"},
"y":{"field":"med","type":"quantitative","scale":{"type":"log","domain":[0.1,100000000]}},
"color":{"field":"grp","type":"nominal","scale":{"domain":["EBV wk0","EBV wk3","Host wk1","Host wk3"],"range":["#000000","#AEAEAE","#7A7A7A","#C4C4C4"]},"legend":null}}},
{"transform":[{"filter":"datum.kind=='box'"}],
"mark":{"type":"tick","thickness":2.5,"size":16},
"encoding":{
"x":{"field":"grp","type":"nominal"},
"y":{"field":"q10","type":"quantitative","scale":{"type":"log","domain":[0.1,100000000]}},
"color":{"field":"grp","type":"nominal","scale":{"domain":["EBV wk0","EBV wk3","Host wk1","Host wk3"],"range":["#000000","#AEAEAE","#7A7A7A","#C4C4C4"]},"legend":null}}},
{"transform":[{"filter":"datum.kind=='box'"}],
"mark":{"type":"tick","thickness":2.5,"size":16},
"encoding":{
"x":{"field":"grp","type":"nominal"},
"y":{"field":"q90","type":"quantitative","scale":{"type":"log","domain":[0.1,100000000]}},
"color":{"field":"grp","type":"nominal","scale":{"domain":["EBV wk0","EBV wk3","Host wk1","Host wk3"],"range":["#000000","#AEAEAE","#7A7A7A","#C4C4C4"]},"legend":null}}},
{"transform":[{"filter":"datum.kind=='pt'"}],
"mark":{"type":"point","filled":true,"color":"black","opacity":1,"size":60,"strokeWidth":0},
"encoding":{
"x":{"field":"grp","type":"nominal"},
"xOffset":{"field":"lane","type":"ordinal","scale":{"domain":[-4,-3,-2,-1,0,1,2,3,4],"paddingInner":0,"paddingOuter":0}},
"y":{"field":"v","type":"quantitative","scale":{"type":"log","domain":[0.1,100000000]}},
"shape":{"field":"grp","type":"nominal","scale":{"domain":["EBV wk0","EBV wk3","Host wk1","Host wk3"],"range":["circle","square","triangle-up","triangle-down"]},"legend":null}}}
]
},
{
"width":227,"height":38,
"data":{"name":"groups"},
"layer":[
{"mark":{"type":"rule","color":"black","strokeWidth":2},
"encoding":{
"x":{"field":"src","type":"nominal","bandPosition":0,"scale":{"type":"band","paddingInner":0.144,"paddingOuter":0.165},"axis":null},
"x2":{"field":"src","bandPosition":1},
"y":{"datum":0.78,"type":"quantitative","scale":{"domain":[0,1]},"axis":null}}},
{"mark":{"type":"text","fontSize":13,"fontWeight":"bold","color":"black","baseline":"middle"},
"encoding":{
"x":{"field":"src","type":"nominal","bandPosition":0.5,"axis":null},
"y":{"datum":0.4,"type":"quantitative","scale":{"domain":[0,1]},"axis":null},
"text":{"field":"src"}}}
]
}
]
}
]
}
